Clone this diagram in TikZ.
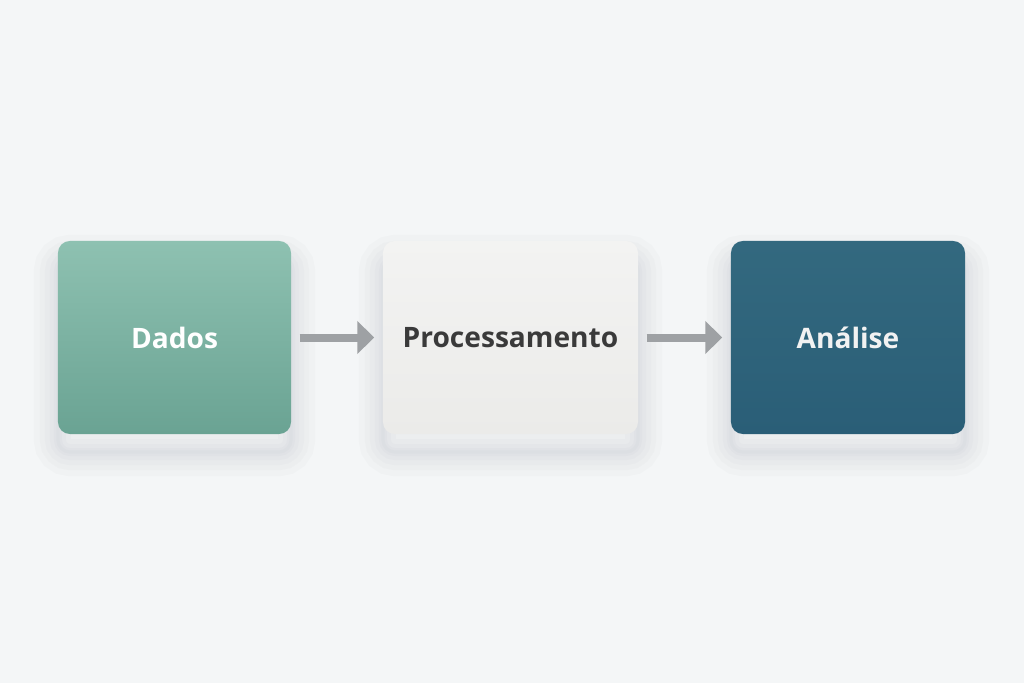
\documentclass[tikz,border=0pt]{standalone}
\usepackage{fontspec}
\setmainfont{Open Sans}
\usepackage{tikz}
\usetikzlibrary{positioning}
\usetikzlibrary{arrows.meta}

\definecolor{bgcol}{HTML}{F4F6F7}
\definecolor{dadostop}{HTML}{8EC1B1}
\definecolor{dadosbot}{HTML}{6AA393}
\definecolor{proctop}{HTML}{F3F3F2}
\definecolor{procbot}{HTML}{EBEBE9}
\definecolor{analtop}{HTML}{33697F}
\definecolor{analbot}{HTML}{2A5E77}
\definecolor{arrowcol}{HTML}{9EA1A4}
\definecolor{proctext}{HTML}{3A3A3A}
\definecolor{shadowcol}{HTML}{5A6470}

\tikzset{
  shadowring/.style={preaction={draw=shadowcol, draw opacity=0.022,
    line width=#1, transform canvas={yshift=-0.45cm}}},
  stagebox/.style={rounded corners=0.3cm, minimum height=4.825cm,
    font=\bfseries\fontsize{20}{24}\selectfont,
    shadowring=1.2cm, shadowring=0.9cm, shadowring=0.65cm,
    shadowring=0.4cm, shadowring=0.2cm, shadowring=0.08cm},
  flowarrow/.style={arrowcol, line width=0.2cm,
    -{Triangle[length=0.425cm, width=0.8cm]},
    shorten <=0.21cm, shorten >=0.21cm}
}

\begin{document}
\begin{tikzpicture}[x=0.025cm, y=-0.025cm]

    % Background
    \fill[bgcol] (0,0) rectangle (1024,683);
    \useasboundingbox (0,0) rectangle (1024,683);

    % Nodes
    \node at (174.5,337.5) (dados) [stagebox, minimum width=5.825cm,
        top color=dadostop, bottom color=dadosbot, text=white] {Dados};
    \node at (510.5,337.5) (proc) [stagebox, minimum width=6.375cm,
        top color=proctop, bottom color=procbot, text=proctext] {Processamento};
    \node at (848,337.5) (analise) [stagebox, minimum width=5.85cm,
        top color=analtop, bottom color=analbot, text=white!95!black] {Análise};

    % Arrows
    \draw[flowarrow] (dados) -- (proc);
    \draw[flowarrow] (proc) -- (analise);

\end{tikzpicture}
\end{document}
